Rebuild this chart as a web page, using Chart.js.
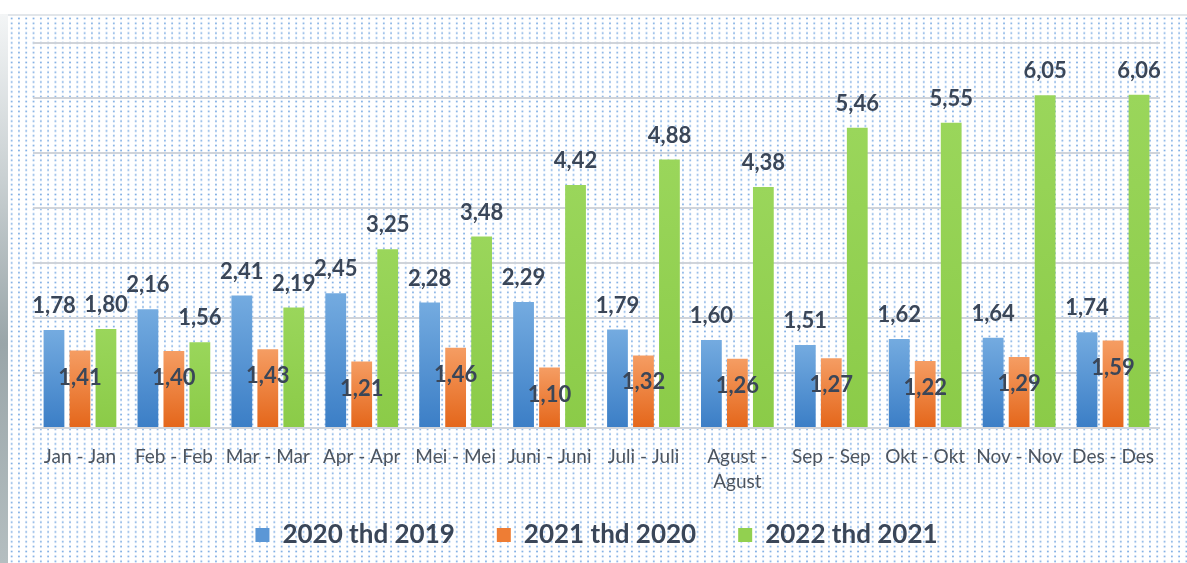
<!DOCTYPE html>
<html>
<head>
<meta charset="utf-8">
<script src="https://cdn.jsdelivr.net/npm/chart.js@4.4.1/dist/chart.umd.min.js"></script>
<style>
  html, body { margin: 0; padding: 0; background: #ffffff; }
  #wrap { position: relative; width: 1187px; height: 563px; overflow: hidden; }
  /* photo edge on the left */
  #edge {
    position: absolute; left: 0; top: 14px; width: 8px; height: 549px;
    background: linear-gradient(to bottom, #f3f5f6 0%, #c9d0d2 30%, #9aa6a9 60%, #b4bec0 100%);
  }
  /* dotted slide background */
  #dots {
    position: absolute; left: 8px; top: 14px; right: 0; bottom: 0;
    border-top: 2px solid #e2e6ea;
    background-color: #ffffff;
    background-image: radial-gradient(circle, rgba(74,140,216,0.75) 0, rgba(74,140,216,0.65) 0.7px, rgba(255,255,255,0) 1.3px);
    background-size: 7.3px 4.9px;
  }
  canvas { position: absolute; left: 0; top: 0; }
</style>
</head>
<body>
<div id="wrap">
  <div id="edge"></div>
  <div id="dots"></div>
  <canvas id="chart" width="1187" height="563"></canvas>
</div>
<script>
/* ── data ───────────────────────────── */
const months = [
  'Jan - Jan', 'Feb - Feb', 'Mar - Mar', 'Apr - Apr', 'Mei - Mei', 'Juni - Juni',
  'Juli - Juli', ['Agust -', 'Agust'], 'Sep - Sep', 'Okt - Okt', 'Nov - Nov', 'Des - Des'
];
const seriesNames = ['2020 thd 2019', '2021 thd 2020', '2022 thd 2021'];
const growth2020 = [1.78, 2.16, 2.41, 2.45, 2.28, 2.29, 1.79, 1.60, 1.51, 1.62, 1.64, 1.74];
const growth2021 = [1.41, 1.40, 1.43, 1.21, 1.46, 1.10, 1.32, 1.26, 1.27, 1.22, 1.29, 1.59];
const growth2022 = [1.80, 1.56, 2.19, 3.25, 3.48, 4.42, 4.88, 4.38, 5.46, 5.55, 6.05, 6.06];

/* ── colours ────────────────────────── */
const gradStops = [
  ['#74abe0', '#3b7ec6'],   // blue
  ['#f59d63', '#e4661a'],   // orange
  ['#9ad65b', '#8bcb48'],   // green
];
const legendColors = ['#5b97d6', '#ee7d34', '#92d050'];
const labelColor = '#3a4658';

function barFill(i) {
  return ctx => {
    const chart = ctx.chart;
    if (!chart.chartArea || ctx.type !== 'data') return legendColors[i];
    const y = chart.scales.y;
    const top = y.getPixelForValue(ctx.raw);
    const bottom = y.getPixelForValue(0);
    const g = chart.ctx.createLinearGradient(0, top, 0, bottom);
    g.addColorStop(0, gradStops[i][0]);
    g.addColorStop(1, gradStops[i][1]);
    return g;
  };
}

const fmt = v => v.toFixed(2).replace('.', ',');

/* ── value labels ───────────────────── */
const valueLabels = {
  id: 'valueLabels',
  afterLayout(chart) {
    // let the two-line "Agust" label run below the fixed axis height
    chart.scales.x.bottom = chart.height;
  },
  afterDatasetsDraw(chart) {
    const c = chart.ctx;
    c.save();
    c.font = "bold 22px Lato, 'Open Sans', sans-serif";
    c.fillStyle = labelColor;
    c.textAlign = 'center';
    c.textBaseline = 'middle';
    chart.data.datasets.forEach((ds, i) => {
      chart.getDatasetMeta(i).data.forEach((bar, j) => {
        const y = i === 1 ? bar.y + 27 : bar.y - 24;
        c.fillText(fmt(ds.data[j]), bar.x, y);
      });
    });
    c.restore();
  }
};

const seriesData = [growth2020, growth2021, growth2022];

new Chart(document.getElementById('chart'), {
  type: 'bar',
  data: {
    labels: months,
    datasets: seriesData.map((d, i) => ({
      label: seriesNames[i],
      data: d,
      backgroundColor: barFill(i),
      borderWidth: 0,
      categoryPercentage: 0.83,
      barPercentage: 0.8,
    }))
  },
  options: {
    responsive: false,
    animation: false,
    devicePixelRatio: 1,
    layout: { padding: { left: 33, right: 27, top: 43, bottom: 5 } },
    plugins: {
      tooltip: { enabled: false },
      legend: {
        position: 'bottom',
        labels: {
          boxWidth: 14,
          boxHeight: 14,
          padding: 42,
          color: labelColor,
          font: { family: "Lato, 'Open Sans', sans-serif", size: 26, weight: 'bold' },
          generateLabels: chart => chart.data.datasets.map((ds, i) => ({
            text: ds.label,
            fillStyle: legendColors[i],
            strokeStyle: legendColors[i],
            lineWidth: 0,
            fontColor: labelColor,
            datasetIndex: i,
          }))
        }
      }
    },
    scales: {
      x: {
        grid: { display: false, drawTicks: false },
        border: { display: false },
        ticks: {
          padding: 17,
          color: '#4d5560',
          font: { family: "Lato, 'Open Sans', sans-serif", size: 19, lineHeight: 1.3 },
          maxRotation: 0,
          autoSkip: false,
        },
        afterFit: scale => { scale.height = 52; }
      },
      y: {
        min: 0,
        max: 7,
        ticks: { display: false, stepSize: 1 },
        grid: { color: 'rgba(205,210,216,0.95)', lineWidth: 2, drawTicks: false },
        border: { display: false },
      }
    }
  },
  plugins: [valueLabels]
});
</script>
</body>
</html>
